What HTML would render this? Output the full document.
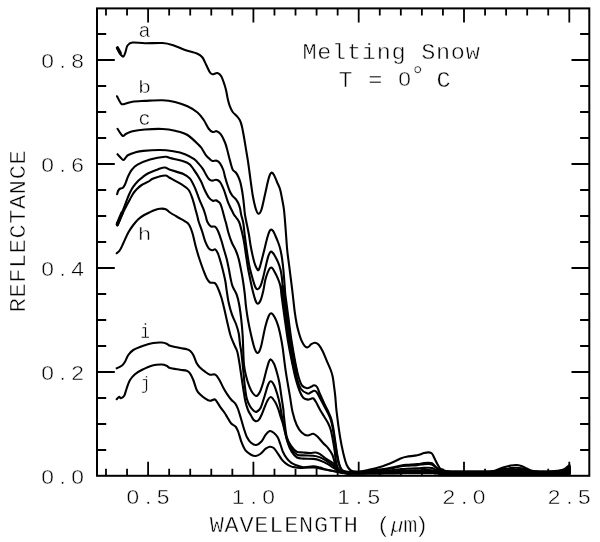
<!DOCTYPE html>
<html><head><meta charset="utf-8"><title>Melting Snow Reflectance</title>
<style>
html,body{margin:0;padding:0;background:#fff;}
body{width:600px;height:542px;overflow:hidden;}
svg{display:block;}
text{fill:#000;}
.m{font-family:"Liberation Mono",monospace;}
.s{font-family:"Liberation Sans",sans-serif;}
</style></head><body>
<svg width="600" height="542" viewBox="0 0 600 542">
<rect width="600" height="542" fill="#fff"/>
<rect x="97.0" y="8.4" width="492.29999999999995" height="467.40000000000003" fill="none" stroke="#000" stroke-width="2.0"/>
<path d="M105.98,475.8v-7M105.98,8.4v7M127.04,475.8v-7M127.04,8.4v7M148.10,475.8v-14M148.10,8.4v14M169.16,475.8v-7M169.16,8.4v7M190.22,475.8v-7M190.22,8.4v7M211.28,475.8v-7M211.28,8.4v7M232.34,475.8v-7M232.34,8.4v7M253.40,475.8v-14M253.40,8.4v14M274.46,475.8v-7M274.46,8.4v7M295.52,475.8v-7M295.52,8.4v7M316.58,475.8v-7M316.58,8.4v7M337.64,475.8v-7M337.64,8.4v7M358.70,475.8v-14M358.70,8.4v14M379.76,475.8v-7M379.76,8.4v7M400.82,475.8v-7M400.82,8.4v7M421.88,475.8v-7M421.88,8.4v7M442.94,475.8v-7M442.94,8.4v7M464.00,475.8v-14M464.00,8.4v14M485.06,475.8v-7M485.06,8.4v7M506.12,475.8v-7M506.12,8.4v7M527.18,475.8v-7M527.18,8.4v7M548.24,475.8v-7M548.24,8.4v7M569.30,475.8v-14M569.30,8.4v14M97.0,450.00h9.2M589.3,450.00h-9.2M97.0,424.00h9.2M589.3,424.00h-9.2M97.0,398.00h9.2M589.3,398.00h-9.2M97.0,372.00h17.8M589.3,372.00h-17.8M97.0,346.00h9.2M589.3,346.00h-9.2M97.0,320.00h9.2M589.3,320.00h-9.2M97.0,294.00h9.2M589.3,294.00h-9.2M97.0,268.00h17.8M589.3,268.00h-17.8M97.0,242.00h9.2M589.3,242.00h-9.2M97.0,216.00h9.2M589.3,216.00h-9.2M97.0,190.00h9.2M589.3,190.00h-9.2M97.0,164.00h17.8M589.3,164.00h-17.8M97.0,138.00h9.2M589.3,138.00h-9.2M97.0,112.00h9.2M589.3,112.00h-9.2M97.0,86.00h9.2M589.3,86.00h-9.2M97.0,60.00h17.8M589.3,60.00h-17.8M97.0,34.00h9.2M589.3,34.00h-9.2" fill="none" stroke="#000" stroke-width="1.8"/>
<path d="M117.00,48.00C117.33,48.67 118.33,50.83 119.00,52.00C119.67,53.17 120.25,54.25 121.00,55.00C121.75,55.75 122.75,57.00 123.50,56.50C124.25,56.00 124.83,53.83 125.50,52.00C126.17,50.17 126.33,47.08 127.50,45.50C128.67,43.92 129.58,42.88 132.50,42.50C135.42,42.12 140.00,43.17 145.00,43.25C150.00,43.33 157.92,42.71 162.50,43.00C167.08,43.29 168.75,43.83 172.50,45.00C176.25,46.17 180.83,48.54 185.00,50.00C189.17,51.46 194.58,52.50 197.50,53.75C200.42,55.00 201.04,55.62 202.50,57.50C203.96,59.38 205.00,62.50 206.25,65.00C207.50,67.50 208.96,70.96 210.00,72.50C211.04,74.04 211.25,74.17 212.50,74.25C213.75,74.33 216.04,72.67 217.50,73.00C218.96,73.33 220.07,74.25 221.25,76.25C222.43,78.25 223.78,82.54 224.60,85.00C225.42,87.46 225.63,88.50 226.20,91.00C226.77,93.50 227.37,97.38 228.00,100.00C228.63,102.62 229.22,104.70 230.00,106.70C230.78,108.70 231.58,110.45 232.70,112.00C233.82,113.55 235.48,114.58 236.70,116.00C237.92,117.42 239.12,118.72 240.00,120.50C240.88,122.28 241.33,123.90 242.00,126.70C242.67,129.50 243.33,133.53 244.00,137.30C244.67,141.07 245.33,145.30 246.00,149.30C246.67,153.30 247.40,157.35 248.00,161.30C248.60,165.25 249.07,169.05 249.60,173.00C250.13,176.95 250.63,181.00 251.20,185.00C251.77,189.00 252.20,192.92 253.00,197.00C253.80,201.08 255.07,206.70 256.00,209.50C256.93,212.30 257.68,213.80 258.60,213.80C259.52,213.80 260.43,212.72 261.50,209.50C262.57,206.28 263.92,199.25 265.00,194.50C266.08,189.75 267.17,184.33 268.00,181.00C268.83,177.67 269.38,175.90 270.00,174.50C270.62,173.10 271.03,172.52 271.70,172.60C272.37,172.68 273.12,173.43 274.00,175.00C274.88,176.57 276.00,179.67 277.00,182.00C278.00,184.33 279.17,186.25 280.00,189.00C280.83,191.75 281.33,195.00 282.00,198.50C282.67,202.00 283.38,204.75 284.00,210.00C284.62,215.25 285.17,223.33 285.70,230.00C286.23,236.67 286.60,243.88 287.20,250.00C287.80,256.12 288.60,261.15 289.30,266.70C290.00,272.25 290.82,278.58 291.40,283.30C291.98,288.02 292.25,290.27 292.80,295.00C293.35,299.73 294.04,306.83 294.70,311.70C295.36,316.57 296.07,320.73 296.75,324.20C297.43,327.67 298.09,329.98 298.80,332.50C299.51,335.02 300.25,337.38 301.00,339.30C301.75,341.22 302.55,342.77 303.30,344.00C304.05,345.23 304.83,346.13 305.50,346.70C306.17,347.27 306.67,347.47 307.30,347.40C307.93,347.33 308.63,346.83 309.30,346.30C309.97,345.77 310.35,344.78 311.30,344.20C312.25,343.62 313.77,342.72 315.00,342.80C316.23,342.88 317.42,343.28 318.70,344.70C319.98,346.12 321.37,348.63 322.70,351.30C324.03,353.97 325.37,357.58 326.70,360.70C328.03,363.82 329.70,367.33 330.70,370.00C331.70,372.67 332.15,374.03 332.70,376.70C333.25,379.37 333.57,382.67 334.00,386.00C334.43,389.33 334.87,392.42 335.30,396.70C335.73,400.98 335.82,405.03 336.60,411.70C337.38,418.37 338.88,429.77 340.00,436.70C341.12,443.63 342.18,448.58 343.30,453.30C344.42,458.02 345.47,462.15 346.70,465.00C347.93,467.85 349.37,469.30 350.70,470.40C352.03,471.50 353.15,471.40 354.70,471.60C356.25,471.80 357.78,471.86 360.00,471.60C362.22,471.34 364.67,470.82 368.00,470.06C371.33,469.31 375.78,468.43 380.00,467.09C384.22,465.74 389.75,463.49 393.30,462.00C396.85,460.51 399.07,459.04 401.30,458.16C403.53,457.28 404.03,457.20 406.70,456.72C409.37,456.24 414.42,455.89 417.30,455.28C420.18,454.67 422.10,453.55 424.00,453.07C425.90,452.59 427.37,452.30 428.70,452.40C430.03,452.50 431.00,452.58 432.00,453.65C433.00,454.72 433.82,457.12 434.70,458.83C435.58,460.54 436.42,462.32 437.30,463.92C438.18,465.52 439.10,467.47 440.00,468.43C440.90,469.39 441.70,469.23 442.70,469.68C443.70,470.13 444.45,470.80 446.00,471.12C447.55,471.44 450.33,471.52 452.00,471.60C453.67,471.68 454.00,471.60 456.00,471.60C458.00,471.60 461.33,471.60 464.00,471.60C466.67,471.60 469.33,471.60 472.00,471.60C474.67,471.60 477.33,471.60 480.00,471.60C482.67,471.60 485.55,471.75 488.00,471.60C490.45,471.45 492.03,471.41 494.70,470.68C497.37,469.94 501.33,468.02 504.00,467.18C506.67,466.33 508.70,465.96 510.70,465.59C512.70,465.23 514.23,464.94 516.00,465.00C517.77,465.06 519.52,465.34 521.30,465.92C523.08,466.51 524.92,467.71 526.70,468.50C528.48,469.29 529.78,470.16 532.00,470.68C534.22,471.19 538.00,471.45 540.00,471.60C542.00,471.75 542.67,471.60 544.00,471.60C545.33,471.60 546.50,471.63 548.00,471.60C549.50,471.57 551.45,471.54 553.00,471.42C554.55,471.30 555.68,471.15 557.30,470.88C558.92,470.61 561.25,470.28 562.70,469.80C564.15,469.32 565.00,468.70 566.00,468.00C567.00,467.30 568.10,466.00 568.70,465.60C569.30,465.20 569.43,464.60 569.60,465.60C569.77,466.60 569.68,470.60 569.70,471.60" fill="none" stroke="#000" stroke-width="2.1" stroke-linejoin="round" stroke-linecap="round"/>
<path d="M117.00,96.25C117.71,97.50 119.92,102.50 121.25,103.75C122.58,105.00 123.12,104.09 125.00,103.75C126.88,103.41 129.17,102.17 132.50,101.70C135.83,101.23 140.00,101.15 145.00,100.90C150.00,100.65 157.50,100.02 162.50,100.20C167.50,100.38 170.83,100.99 175.00,102.00C179.17,103.01 183.75,104.50 187.50,106.25C191.25,108.00 194.79,110.21 197.50,112.50C200.21,114.79 201.88,117.29 203.75,120.00C205.62,122.71 207.26,126.75 208.75,128.75C210.24,130.75 211.38,131.59 212.70,132.00C214.02,132.41 215.37,130.83 216.70,131.20C218.03,131.57 219.32,132.32 220.70,134.20C222.08,136.08 223.90,139.87 225.00,142.50C226.10,145.13 226.58,147.42 227.30,150.00C228.02,152.58 228.63,155.42 229.30,158.00C229.97,160.58 230.70,163.50 231.30,165.50C231.90,167.50 232.15,168.83 232.90,170.00C233.65,171.17 234.90,171.38 235.80,172.50C236.70,173.62 237.53,175.03 238.30,176.70C239.07,178.37 239.77,180.15 240.40,182.50C241.03,184.85 241.62,188.02 242.10,190.80C242.58,193.58 242.95,196.42 243.30,199.20C243.65,201.98 243.92,204.87 244.20,207.50C244.48,210.13 244.53,212.08 245.00,215.00C245.47,217.92 246.33,221.67 247.00,225.00C247.67,228.33 248.42,231.67 249.00,235.00C249.58,238.33 249.92,241.67 250.50,245.00C251.08,248.33 251.83,252.00 252.50,255.00C253.17,258.00 253.83,260.83 254.50,263.00C255.17,265.17 255.83,266.80 256.50,268.00C257.17,269.20 257.87,270.62 258.50,270.20C259.13,269.78 259.63,267.70 260.30,265.50C260.97,263.30 261.72,260.08 262.50,257.00C263.28,253.92 264.17,250.33 265.00,247.00C265.83,243.67 266.75,239.63 267.50,237.00C268.25,234.37 268.88,232.43 269.50,231.20C270.12,229.97 270.58,229.60 271.20,229.60C271.82,229.60 272.48,230.13 273.20,231.20C273.92,232.27 274.70,234.20 275.50,236.00C276.30,237.80 277.25,240.00 278.00,242.00C278.75,244.00 279.42,245.83 280.00,248.00C280.58,250.17 281.08,252.67 281.50,255.00C281.92,257.33 282.20,259.67 282.50,262.00C282.80,264.33 283.05,266.50 283.30,269.00C283.55,271.50 283.75,273.92 284.00,277.00C284.25,280.08 284.57,284.50 284.80,287.50C285.03,290.50 284.82,290.08 285.40,295.00C285.98,299.92 287.30,309.50 288.30,317.00C289.30,324.50 290.22,332.33 291.40,340.00C292.58,347.67 294.20,356.83 295.40,363.00C296.60,369.17 297.50,373.25 298.60,377.00C299.70,380.75 300.60,383.62 302.00,385.50C303.40,387.38 305.50,388.08 307.00,388.30C308.50,388.52 309.83,387.30 311.00,386.80C312.17,386.30 313.00,385.27 314.00,385.30C315.00,385.33 316.00,385.55 317.00,387.00C318.00,388.45 318.83,391.33 320.00,394.00C321.17,396.67 322.67,400.17 324.00,403.00C325.33,405.83 326.78,408.33 328.00,411.00C329.22,413.67 330.42,416.12 331.30,419.00C332.18,421.88 332.63,424.52 333.30,428.30C333.97,432.08 334.63,437.25 335.30,441.70C335.97,446.15 336.63,451.23 337.30,455.00C337.97,458.77 338.52,461.80 339.30,464.30C340.08,466.80 340.72,468.75 342.00,470.00C343.28,471.25 345.33,471.50 347.00,471.80C348.67,472.10 349.83,471.80 352.00,471.80C354.17,471.80 357.33,471.92 360.00,471.80C362.67,471.68 364.67,471.43 368.00,471.07C371.33,470.72 375.78,470.30 380.00,469.66C384.22,469.02 389.75,467.96 393.30,467.25C396.85,466.54 399.07,465.85 401.30,465.43C403.53,465.01 404.03,464.98 406.70,464.75C409.37,464.52 414.42,464.35 417.30,464.06C420.18,463.78 422.10,463.25 424.00,463.02C425.90,462.79 427.37,462.65 428.70,462.70C430.03,462.75 431.00,462.78 432.00,463.29C433.00,463.80 433.82,464.94 434.70,465.75C435.58,466.56 436.42,467.40 437.30,468.16C438.18,468.92 439.10,469.84 440.00,470.30C440.90,470.75 441.70,470.68 442.70,470.89C443.70,471.10 444.45,471.42 446.00,471.57C447.55,471.72 450.33,471.76 452.00,471.80C453.67,471.84 454.00,471.80 456.00,471.80C458.00,471.80 461.33,471.80 464.00,471.80C466.67,471.80 469.33,471.80 472.00,471.80C474.67,471.80 477.33,471.80 480.00,471.80C482.67,471.80 485.55,471.89 488.00,471.80C490.45,471.71 492.03,471.69 494.70,471.24C497.37,470.79 501.33,469.63 504.00,469.12C506.67,468.61 508.70,468.38 510.70,468.16C512.70,467.94 514.23,467.77 516.00,467.80C517.77,467.83 519.52,468.01 521.30,468.36C523.08,468.71 524.92,469.44 526.70,469.92C528.48,470.40 529.78,470.93 532.00,471.24C534.22,471.55 538.00,471.71 540.00,471.80C542.00,471.89 542.67,471.80 544.00,471.80C545.33,471.80 546.50,471.82 548.00,471.80C549.50,471.78 551.45,471.75 553.00,471.65C554.55,471.55 555.68,471.43 557.30,471.20C558.92,470.97 561.25,470.70 562.70,470.30C564.15,469.90 565.00,469.38 566.00,468.80C567.00,468.22 568.10,467.13 568.70,466.80C569.30,466.47 569.43,465.97 569.60,466.80C569.77,467.63 569.68,470.97 569.70,471.80" fill="none" stroke="#000" stroke-width="2.1" stroke-linejoin="round" stroke-linecap="round"/>
<path d="M117.50,128.75C118.33,129.92 121.04,134.92 122.50,135.75C123.96,136.58 124.58,134.50 126.25,133.75C127.92,133.00 129.38,131.96 132.50,131.25C135.62,130.54 140.00,129.88 145.00,129.50C150.00,129.12 157.50,128.79 162.50,129.00C167.50,129.21 170.83,129.75 175.00,130.75C179.17,131.75 183.33,132.42 187.50,135.00C191.67,137.58 197.47,143.75 200.00,146.25C202.53,148.75 201.70,148.49 202.70,150.00C203.70,151.51 204.78,153.75 206.00,155.30C207.22,156.85 208.88,158.35 210.00,159.30C211.12,160.25 211.58,160.77 212.70,161.00C213.82,161.23 215.48,160.32 216.70,160.70C217.92,161.08 218.90,161.75 220.00,163.30C221.10,164.85 222.47,167.77 223.30,170.00C224.13,172.23 224.30,174.20 225.00,176.70C225.70,179.20 226.67,182.50 227.50,185.00C228.33,187.50 229.17,189.90 230.00,191.70C230.83,193.50 231.53,194.55 232.50,195.80C233.47,197.05 234.83,197.95 235.80,199.20C236.77,200.45 237.60,201.78 238.30,203.30C239.00,204.82 239.51,206.35 240.00,208.30C240.49,210.25 240.70,212.55 241.25,215.00C241.80,217.45 242.73,219.67 243.30,223.00C243.88,226.33 244.13,230.55 244.70,235.00C245.27,239.45 245.93,244.58 246.70,249.70C247.47,254.82 248.30,260.82 249.30,265.70C250.30,270.58 251.70,275.45 252.70,279.00C253.70,282.55 254.47,285.28 255.30,287.00C256.13,288.72 256.83,289.47 257.70,289.30C258.57,289.13 259.62,287.88 260.50,286.00C261.38,284.12 262.00,281.83 263.00,278.00C264.00,274.17 265.58,266.72 266.50,263.00C267.42,259.28 267.92,257.45 268.50,255.70C269.08,253.95 269.57,253.18 270.00,252.50C270.43,251.82 270.68,251.60 271.10,251.60C271.52,251.60 271.93,251.90 272.50,252.50C273.07,253.10 273.62,253.67 274.50,255.20C275.38,256.73 276.82,259.37 277.80,261.70C278.78,264.03 279.73,266.65 280.40,269.20C281.07,271.75 281.40,273.95 281.80,277.00C282.20,280.05 282.53,284.50 282.80,287.50C283.07,290.50 282.82,290.08 283.40,295.00C283.98,299.92 285.27,309.50 286.30,317.00C287.33,324.50 288.35,332.33 289.60,340.00C290.85,347.67 292.53,356.50 293.80,363.00C295.07,369.50 296.00,374.67 297.20,379.00C298.40,383.33 299.28,386.57 301.00,389.00C302.72,391.43 305.83,393.05 307.50,393.60C309.17,394.15 309.92,392.77 311.00,392.30C312.08,391.83 313.00,390.77 314.00,390.80C315.00,390.83 315.92,391.13 317.00,392.50C318.08,393.87 319.30,396.75 320.50,399.00C321.70,401.25 322.95,403.62 324.20,406.00C325.45,408.38 326.87,410.88 328.00,413.30C329.13,415.72 330.17,417.80 331.00,420.50C331.83,423.20 332.33,425.83 333.00,429.50C333.67,433.17 334.33,438.17 335.00,442.50C335.67,446.83 336.33,451.83 337.00,455.50C337.67,459.17 338.17,462.00 339.00,464.50C339.83,467.00 340.67,469.25 342.00,470.50C343.33,471.75 345.33,471.75 347.00,472.00C348.67,472.25 349.83,472.00 352.00,472.00C354.17,472.00 357.33,472.11 360.00,472.00C362.67,471.89 364.67,471.67 368.00,471.35C371.33,471.03 375.78,470.66 380.00,470.10C384.22,469.53 389.75,468.58 393.30,467.95C396.85,467.32 399.07,466.70 401.30,466.33C403.53,465.96 404.03,465.93 406.70,465.72C409.37,465.52 414.42,465.37 417.30,465.12C420.18,464.86 422.10,464.39 424.00,464.18C425.90,463.98 427.37,463.86 428.70,463.90C430.03,463.94 431.00,463.97 432.00,464.43C433.00,464.88 433.82,465.89 434.70,466.61C435.58,467.34 436.42,468.08 437.30,468.76C438.18,469.44 439.10,470.26 440.00,470.66C440.90,471.07 441.70,471.00 442.70,471.19C443.70,471.38 444.45,471.66 446.00,471.80C447.55,471.93 450.33,471.97 452.00,472.00C453.67,472.03 454.00,472.00 456.00,472.00C458.00,472.00 461.33,472.00 464.00,472.00C466.67,472.00 469.33,472.00 472.00,472.00C474.67,472.00 477.33,472.00 480.00,472.00C482.67,472.00 485.55,472.06 488.00,472.00C490.45,471.94 492.03,471.93 494.70,471.65C497.37,471.37 501.33,470.65 504.00,470.32C506.67,470.00 508.70,469.86 510.70,469.73C512.70,469.59 514.23,469.48 516.00,469.50C517.77,469.52 519.52,469.63 521.30,469.85C523.08,470.07 524.92,470.52 526.70,470.82C528.48,471.12 529.78,471.45 532.00,471.65C534.22,471.85 538.00,471.94 540.00,472.00C542.00,472.06 542.67,472.00 544.00,472.00C545.33,472.00 546.50,472.02 548.00,472.00C549.50,471.98 551.45,471.96 553.00,471.87C554.55,471.77 555.68,471.66 557.30,471.46C558.92,471.26 561.25,471.01 562.70,470.65C564.15,470.29 565.00,469.82 566.00,469.30C567.00,468.78 568.10,467.80 568.70,467.50C569.30,467.20 569.43,466.75 569.60,467.50C569.77,468.25 569.68,471.25 569.70,472.00" fill="none" stroke="#000" stroke-width="2.1" stroke-linejoin="round" stroke-linecap="round"/>
<path d="M117.50,154.20C118.00,154.75 119.53,156.53 120.50,157.50C121.47,158.47 122.42,160.00 123.30,160.00C124.18,160.00 124.97,158.33 125.80,157.50C126.63,156.67 126.77,155.83 128.30,155.00C129.83,154.17 132.50,153.18 135.00,152.50C137.50,151.82 139.13,151.32 143.30,150.90C147.47,150.48 155.00,149.93 160.00,150.00C165.00,150.07 169.13,150.60 173.30,151.30C177.47,152.00 181.52,152.88 185.00,154.20C188.48,155.52 191.98,157.68 194.20,159.20C196.42,160.72 196.92,161.78 198.30,163.30C199.68,164.82 201.25,166.48 202.50,168.30C203.75,170.12 204.83,172.53 205.80,174.20C206.77,175.87 207.47,177.27 208.30,178.30C209.13,179.33 209.97,180.03 210.80,180.40C211.63,180.77 212.47,180.62 213.30,180.50C214.13,180.38 214.97,179.70 215.80,179.70C216.63,179.70 217.53,180.03 218.30,180.50C219.07,180.97 219.73,181.55 220.40,182.50C221.07,183.45 221.62,184.70 222.30,186.20C222.98,187.70 223.63,189.07 224.50,191.50C225.37,193.93 226.58,198.27 227.50,200.80C228.42,203.33 229.17,204.88 230.00,206.70C230.83,208.52 231.80,210.32 232.50,211.70C233.20,213.08 233.53,213.95 234.20,215.00C234.87,216.05 235.65,216.75 236.50,218.00C237.35,219.25 238.38,220.12 239.30,222.50C240.22,224.88 241.22,229.10 242.00,232.30C242.78,235.50 243.33,237.92 244.00,241.70C244.67,245.48 245.33,250.57 246.00,255.00C246.67,259.43 247.22,263.85 248.00,268.30C248.78,272.75 249.92,277.97 250.70,281.70C251.48,285.43 251.93,287.65 252.70,290.70C253.47,293.75 254.47,297.83 255.30,300.00C256.13,302.17 256.80,303.70 257.70,303.70C258.60,303.70 259.77,302.17 260.70,300.00C261.63,297.83 262.53,294.03 263.30,290.70C264.07,287.37 264.60,282.95 265.30,280.00C266.00,277.05 266.80,274.88 267.50,273.00C268.20,271.12 268.90,269.62 269.50,268.70C270.10,267.78 270.57,267.52 271.10,267.50C271.63,267.48 272.13,267.90 272.70,268.60C273.27,269.30 273.65,270.08 274.50,271.70C275.35,273.32 276.88,276.17 277.80,278.30C278.72,280.43 279.47,282.55 280.00,284.50C280.53,286.45 280.75,288.25 281.00,290.00C281.25,291.75 280.92,290.50 281.50,295.00C282.08,299.50 283.45,309.50 284.50,317.00C285.55,324.50 286.52,332.33 287.80,340.00C289.08,347.67 290.83,356.33 292.20,363.00C293.57,369.67 294.70,375.17 296.00,380.00C297.30,384.83 298.75,389.00 300.00,392.00C301.25,395.00 302.17,396.73 303.50,398.00C304.83,399.27 306.75,399.48 308.00,399.60C309.25,399.72 310.08,398.88 311.00,398.70C311.92,398.52 312.67,397.95 313.50,398.50C314.33,399.05 314.92,400.13 316.00,402.00C317.08,403.87 318.67,407.32 320.00,409.70C321.33,412.08 322.67,414.08 324.00,416.30C325.33,418.52 326.88,420.77 328.00,423.00C329.12,425.23 329.92,427.03 330.70,429.70C331.48,432.37 332.03,435.45 332.70,439.00C333.37,442.55 334.15,447.22 334.70,451.00C335.25,454.78 335.45,458.87 336.00,461.70C336.55,464.53 337.17,466.40 338.00,468.00C338.83,469.60 339.50,470.58 341.00,471.30C342.50,472.02 345.17,472.13 347.00,472.30C348.83,472.47 349.83,472.30 352.00,472.30C354.17,472.30 357.33,472.36 360.00,472.30C362.67,472.24 364.67,472.11 368.00,471.93C371.33,471.75 375.78,471.54 380.00,471.22C384.22,470.90 389.75,470.36 393.30,470.00C396.85,469.64 399.07,469.29 401.30,469.08C403.53,468.87 404.03,468.85 406.70,468.74C409.37,468.62 414.42,468.54 417.30,468.39C420.18,468.24 422.10,467.98 424.00,467.86C425.90,467.75 427.37,467.68 428.70,467.70C430.03,467.72 431.00,467.74 432.00,468.00C433.00,468.26 433.82,468.83 434.70,469.24C435.58,469.65 436.42,470.08 437.30,470.46C438.18,470.84 439.10,471.31 440.00,471.54C440.90,471.77 441.70,471.73 442.70,471.84C443.70,471.95 444.45,472.11 446.00,472.19C447.55,472.26 450.33,472.28 452.00,472.30C453.67,472.32 454.00,472.30 456.00,472.30C458.00,472.30 461.33,472.30 464.00,472.30C466.67,472.30 469.33,472.30 472.00,472.30C474.67,472.30 477.33,472.30 480.00,472.30C482.67,472.30 485.55,472.34 488.00,472.30C490.45,472.26 492.03,472.26 494.70,472.09C497.37,471.92 501.33,471.49 504.00,471.30C506.67,471.10 508.70,471.02 510.70,470.94C512.70,470.85 514.23,470.79 516.00,470.80C517.77,470.81 519.52,470.88 521.30,471.01C523.08,471.14 524.92,471.42 526.70,471.60C528.48,471.78 529.78,471.97 532.00,472.09C534.22,472.21 538.00,472.26 540.00,472.30C542.00,472.34 542.67,472.30 544.00,472.30C545.33,472.30 546.50,472.32 548.00,472.30C549.50,472.28 551.45,472.26 553.00,472.18C554.55,472.10 555.68,472.00 557.30,471.82C558.92,471.64 561.25,471.42 562.70,471.10C564.15,470.78 565.00,470.37 566.00,469.90C567.00,469.43 568.10,468.57 568.70,468.30C569.30,468.03 569.43,467.63 569.60,468.30C569.77,468.97 569.68,471.63 569.70,472.30" fill="none" stroke="#000" stroke-width="2.1" stroke-linejoin="round" stroke-linecap="round"/>
<path d="M117.10,194.20C117.30,193.60 117.75,191.55 118.30,190.60C118.85,189.65 119.63,188.98 120.40,188.50C121.17,188.02 122.13,188.37 122.90,187.70C123.67,187.03 124.37,185.78 125.00,184.50C125.63,183.22 126.12,181.50 126.70,180.00C127.28,178.50 127.67,177.17 128.50,175.50C129.33,173.83 130.20,171.80 131.70,170.00C133.20,168.20 134.45,166.45 137.50,164.70C140.55,162.95 145.42,160.82 150.00,159.50C154.58,158.18 161.67,157.00 165.00,156.75C168.33,156.50 166.28,157.01 170.00,158.00C173.72,158.99 183.30,160.70 187.30,162.70C191.30,164.70 191.77,167.00 194.00,170.00C196.23,173.00 198.92,177.37 200.70,180.70C202.48,184.03 203.37,187.23 204.70,190.00C206.03,192.77 207.37,195.52 208.70,197.30C210.03,199.08 211.48,200.18 212.70,200.70C213.92,201.22 215.08,200.25 216.00,200.40C216.92,200.55 217.53,201.12 218.20,201.60C218.87,202.08 219.42,202.32 220.00,203.30C220.58,204.28 221.15,205.83 221.70,207.50C222.25,209.17 222.78,211.38 223.30,213.30C223.82,215.22 224.35,217.38 224.80,219.00C225.25,220.62 225.35,220.55 226.00,223.00C226.65,225.45 227.70,230.37 228.70,233.70C229.70,237.03 230.78,240.12 232.00,243.00C233.22,245.88 234.88,248.33 236.00,251.00C237.12,253.67 237.92,256.12 238.70,259.00C239.48,261.88 240.03,264.97 240.70,268.30C241.37,271.63 242.03,274.83 242.70,279.00C243.37,283.17 244.15,288.68 244.70,293.30C245.25,297.92 245.45,302.25 246.00,306.70C246.55,311.15 247.22,315.57 248.00,320.00C248.78,324.43 249.73,328.97 250.70,333.30C251.67,337.63 252.95,343.00 253.80,346.00C254.65,349.00 255.18,350.13 255.80,351.30C256.42,352.47 256.93,352.95 257.50,353.00C258.07,353.05 258.57,352.85 259.20,351.60C259.83,350.35 260.28,349.65 261.30,345.50C262.32,341.35 264.07,331.62 265.30,326.70C266.53,321.78 267.70,318.23 268.70,316.00C269.70,313.77 270.30,313.08 271.30,313.30C272.30,313.52 273.58,315.30 274.70,317.30C275.82,319.30 277.12,322.63 278.00,325.30C278.88,327.97 279.25,329.73 280.00,333.30C280.75,336.87 281.53,340.30 282.50,346.70C283.47,353.10 284.55,363.37 285.80,371.70C287.05,380.03 288.88,390.03 290.00,396.70C291.12,403.37 291.38,406.98 292.50,411.70C293.62,416.42 295.17,421.53 296.70,425.00C298.23,428.47 299.90,430.75 301.70,432.50C303.50,434.25 305.57,435.30 307.50,435.50C309.43,435.70 311.50,433.37 313.30,433.70C315.10,434.03 316.63,435.90 318.30,437.50C319.97,439.10 321.63,441.50 323.30,443.30C324.97,445.10 326.77,446.35 328.30,448.30C329.83,450.25 331.38,452.50 332.50,455.00C333.62,457.50 334.03,460.80 335.00,463.30C335.97,465.80 336.30,468.45 338.30,470.00C340.30,471.55 344.72,472.17 347.00,472.60C349.28,473.03 349.83,472.60 352.00,472.60C354.17,472.60 357.33,472.63 360.00,472.60C362.67,472.57 364.67,472.49 368.00,472.39C371.33,472.29 375.78,472.17 380.00,471.99C384.22,471.81 389.75,471.50 393.30,471.30C396.85,471.10 399.07,470.90 401.30,470.78C403.53,470.66 404.03,470.65 406.70,470.59C409.37,470.52 414.42,470.47 417.30,470.39C420.18,470.31 422.10,470.16 424.00,470.09C425.90,470.03 427.37,469.99 428.70,470.00C430.03,470.01 431.00,470.02 432.00,470.17C433.00,470.31 433.82,470.64 434.70,470.87C435.58,471.10 436.42,471.34 437.30,471.56C438.18,471.78 439.10,472.04 440.00,472.17C440.90,472.30 441.70,472.28 442.70,472.34C443.70,472.40 444.45,472.49 446.00,472.54C447.55,472.58 450.33,472.59 452.00,472.60C453.67,472.61 454.00,472.60 456.00,472.60C458.00,472.60 461.33,472.60 464.00,472.60C466.67,472.60 469.33,472.60 472.00,472.60C474.67,472.60 477.33,472.60 480.00,472.60C482.67,472.60 485.55,472.62 488.00,472.60C490.45,472.58 492.03,472.57 494.70,472.46C497.37,472.35 501.33,472.06 504.00,471.93C506.67,471.80 508.70,471.75 510.70,471.69C512.70,471.63 514.23,471.59 516.00,471.60C517.77,471.61 519.52,471.65 521.30,471.74C523.08,471.83 524.92,472.01 526.70,472.13C528.48,472.25 529.78,472.38 532.00,472.46C534.22,472.54 538.00,472.58 540.00,472.60C542.00,472.62 542.67,472.60 544.00,472.60C545.33,472.60 546.50,472.62 548.00,472.60C549.50,472.59 551.45,472.57 553.00,472.51C554.55,472.45 555.68,472.38 557.30,472.24C558.92,472.11 561.25,471.94 562.70,471.70C564.15,471.46 565.00,471.15 566.00,470.80C567.00,470.45 568.10,469.80 568.70,469.60C569.30,469.40 569.43,469.10 569.60,469.60C569.77,470.10 569.68,472.10 569.70,472.60" fill="none" stroke="#000" stroke-width="2.1" stroke-linejoin="round" stroke-linecap="round"/>
<path d="M117.00,223.00C117.22,222.67 117.52,222.62 118.30,221.00C119.08,219.38 120.58,215.97 121.70,213.30C122.82,210.63 124.03,207.50 125.00,205.00C125.97,202.50 126.67,200.38 127.50,198.30C128.33,196.22 129.03,194.43 130.00,192.50C130.97,190.57 131.92,188.65 133.30,186.70C134.68,184.75 136.68,182.45 138.30,180.80C139.92,179.15 141.33,178.05 143.00,176.80C144.67,175.55 145.75,174.57 148.30,173.30C150.85,172.03 155.52,170.17 158.30,169.20C161.08,168.23 163.05,167.42 165.00,167.50C166.95,167.58 166.95,168.62 170.00,169.70C173.05,170.78 179.97,172.50 183.30,174.00C186.63,175.50 188.00,176.25 190.00,178.70C192.00,181.15 193.75,185.27 195.30,188.70C196.85,192.13 197.97,195.97 199.30,199.30C200.63,202.63 202.23,205.92 203.30,208.70C204.37,211.48 205.03,213.83 205.70,216.00C206.37,218.17 206.47,219.98 207.30,221.70C208.13,223.42 209.42,225.47 210.70,226.30C211.98,227.13 213.78,225.92 215.00,226.70C216.22,227.48 216.95,228.73 218.00,231.00C219.05,233.27 220.30,237.18 221.30,240.30C222.30,243.42 223.10,246.58 224.00,249.70C224.90,252.82 225.92,255.90 226.70,259.00C227.48,262.10 228.00,264.80 228.70,268.30C229.40,271.80 230.23,276.93 230.90,280.00C231.57,283.07 231.73,284.25 232.70,286.70C233.67,289.15 235.60,291.60 236.70,294.70C237.80,297.80 238.53,301.08 239.30,305.30C240.07,309.52 240.73,314.88 241.30,320.00C241.87,325.12 242.37,330.67 242.70,336.00C243.03,341.33 243.08,347.17 243.30,352.00C243.52,356.83 243.55,361.05 244.00,365.00C244.45,368.95 245.12,372.15 246.00,375.70C246.88,379.25 248.18,383.42 249.30,386.30C250.42,389.18 251.52,391.38 252.70,393.00C253.88,394.62 255.18,396.22 256.40,396.00C257.62,395.78 258.85,393.98 260.00,391.70C261.15,389.42 262.30,385.63 263.30,382.30C264.30,378.97 265.10,375.03 266.00,371.70C266.90,368.37 267.92,364.35 268.70,362.30C269.48,360.25 269.82,359.17 270.70,359.40C271.58,359.63 273.00,361.65 274.00,363.70C275.00,365.75 275.82,368.60 276.70,371.70C277.58,374.80 278.53,378.30 279.30,382.30C280.07,386.30 280.63,391.25 281.30,395.70C281.97,400.15 282.85,405.45 283.30,409.00C283.75,412.55 283.43,412.38 284.00,417.00C284.57,421.62 285.42,431.75 286.70,436.70C287.98,441.65 290.03,444.20 291.70,446.70C293.37,449.20 294.77,450.73 296.70,451.70C298.63,452.67 301.08,452.28 303.30,452.50C305.52,452.72 307.92,453.00 310.00,453.00C312.08,453.00 314.13,452.30 315.80,452.50C317.47,452.70 318.18,453.08 320.00,454.20C321.82,455.32 324.48,457.68 326.70,459.20C328.92,460.72 331.63,461.78 333.30,463.30C334.97,464.82 335.58,466.85 336.70,468.30C337.82,469.75 338.28,471.23 340.00,472.00C341.72,472.77 345.00,472.75 347.00,472.90C349.00,473.05 349.83,472.90 352.00,472.90C354.17,472.90 357.33,472.92 360.00,472.90C362.67,472.88 364.67,472.83 368.00,472.77C371.33,472.71 375.78,472.64 380.00,472.52C384.22,472.41 389.75,472.22 393.30,472.10C396.85,471.98 399.07,471.85 401.30,471.78C403.53,471.71 404.03,471.70 406.70,471.66C409.37,471.62 414.42,471.59 417.30,471.54C420.18,471.49 422.10,471.40 424.00,471.36C425.90,471.32 427.37,471.29 428.70,471.30C430.03,471.31 431.00,471.31 432.00,471.40C433.00,471.49 433.82,471.69 434.70,471.84C435.58,471.98 436.42,472.13 437.30,472.26C438.18,472.39 439.10,472.56 440.00,472.64C440.90,472.72 441.70,472.70 442.70,472.74C443.70,472.78 444.45,472.83 446.00,472.86C447.55,472.89 450.33,472.89 452.00,472.90C453.67,472.91 454.00,472.90 456.00,472.90C458.00,472.90 461.33,472.90 464.00,472.90C466.67,472.90 469.33,472.90 472.00,472.90C474.67,472.90 477.33,472.90 480.00,472.90C482.67,472.90 485.55,472.91 488.00,472.90C490.45,472.89 492.03,472.88 494.70,472.82C497.37,472.75 501.33,472.57 504.00,472.50C506.67,472.42 508.70,472.39 510.70,472.35C512.70,472.32 514.23,472.29 516.00,472.30C517.77,472.30 519.52,472.33 521.30,472.38C523.08,472.44 524.92,472.55 526.70,472.62C528.48,472.69 529.78,472.77 532.00,472.82C534.22,472.86 538.00,472.89 540.00,472.90C542.00,472.91 542.67,472.90 544.00,472.90C545.33,472.90 546.50,472.91 548.00,472.90C549.50,472.88 551.45,472.87 553.00,472.81C554.55,472.75 555.68,472.67 557.30,472.54C558.92,472.40 561.25,472.24 562.70,472.00C564.15,471.76 565.00,471.45 566.00,471.10C567.00,470.75 568.10,470.10 568.70,469.90C569.30,469.70 569.43,469.40 569.60,469.90C569.77,470.40 569.68,472.40 569.70,472.90" fill="none" stroke="#000" stroke-width="2.1" stroke-linejoin="round" stroke-linecap="round"/>
<path d="M117.30,225.50C117.75,224.50 119.00,221.75 120.00,219.50C121.00,217.25 122.18,214.37 123.30,212.00C124.42,209.63 125.58,207.43 126.70,205.30C127.82,203.17 128.90,201.20 130.00,199.20C131.10,197.20 132.18,194.97 133.30,193.30C134.42,191.63 135.30,190.58 136.70,189.20C138.10,187.82 139.77,186.25 141.70,185.00C143.63,183.75 146.37,182.77 148.30,181.70C150.23,180.63 150.52,179.63 153.30,178.60C156.08,177.57 162.22,175.60 165.00,175.50C167.78,175.40 167.17,176.47 170.00,178.00C172.83,179.53 178.88,182.70 182.00,184.70C185.12,186.70 186.92,187.57 188.70,190.00C190.48,192.43 191.60,196.18 192.70,199.30C193.80,202.42 194.53,205.92 195.30,208.70C196.07,211.48 196.73,213.83 197.30,216.00C197.87,218.17 197.92,219.20 198.70,221.70C199.48,224.20 200.90,227.67 202.00,231.00C203.10,234.33 204.18,238.82 205.30,241.70C206.42,244.58 207.58,246.87 208.70,248.30C209.82,249.73 210.90,250.12 212.00,250.30C213.10,250.48 214.30,248.83 215.30,249.40C216.30,249.97 217.00,251.22 218.00,253.70C219.00,256.18 220.30,260.75 221.30,264.30C222.30,267.85 223.30,272.05 224.00,275.00C224.70,277.95 225.05,279.38 225.50,282.00C225.95,284.62 226.17,287.25 226.70,290.70C227.23,294.15 227.82,298.70 228.70,302.70C229.58,306.70 230.78,311.15 232.00,314.70C233.22,318.25 234.88,320.90 236.00,324.00C237.12,327.10 238.03,329.97 238.70,333.30C239.37,336.63 239.57,340.88 240.00,344.00C240.43,347.12 240.85,348.50 241.30,352.00C241.75,355.50 242.30,361.17 242.70,365.00C243.10,368.83 243.37,371.67 243.70,375.00C244.03,378.33 244.20,381.12 244.70,385.00C245.20,388.88 245.82,394.75 246.70,398.30C247.58,401.85 248.78,404.18 250.00,406.30C251.22,408.42 252.88,410.10 254.00,411.00C255.12,411.90 255.58,412.25 256.70,411.70C257.82,411.15 259.37,410.37 260.70,407.70C262.03,405.03 263.48,399.48 264.70,395.70C265.92,391.92 267.00,387.40 268.00,385.00C269.00,382.60 269.70,381.30 270.70,381.30C271.70,381.30 272.90,382.83 274.00,385.00C275.10,387.17 276.30,390.97 277.30,394.30C278.30,397.63 279.22,401.22 280.00,405.00C280.78,408.78 280.83,411.28 282.00,417.00C283.17,422.72 285.42,433.97 287.00,439.30C288.58,444.63 289.83,446.45 291.50,449.00C293.17,451.55 295.03,453.53 297.00,454.60C298.97,455.67 300.58,455.22 303.30,455.40C306.02,455.58 310.52,455.37 313.30,455.70C316.08,456.03 317.50,456.35 320.00,457.40C322.50,458.45 325.97,460.52 328.30,462.00C330.63,463.48 332.38,464.88 334.00,466.30C335.62,467.72 335.83,469.37 338.00,470.50C340.17,471.63 344.67,472.67 347.00,473.10C349.33,473.53 349.83,473.10 352.00,473.10C354.17,473.10 357.33,473.12 360.00,473.10C362.67,473.08 364.67,473.05 368.00,473.00C371.33,472.96 375.78,472.90 380.00,472.82C384.22,472.73 389.75,472.59 393.30,472.50C396.85,472.41 399.07,472.32 401.30,472.26C403.53,472.21 404.03,472.20 406.70,472.17C409.37,472.14 414.42,472.12 417.30,472.08C420.18,472.04 422.10,471.97 424.00,471.94C425.90,471.91 427.37,471.89 428.70,471.90C430.03,471.91 431.00,471.91 432.00,471.98C433.00,472.05 433.82,472.20 434.70,472.30C435.58,472.41 436.42,472.52 437.30,472.62C438.18,472.72 439.10,472.84 440.00,472.90C440.90,472.96 441.70,472.95 442.70,472.98C443.70,473.01 444.45,473.05 446.00,473.07C447.55,473.09 450.33,473.10 452.00,473.10C453.67,473.11 454.00,473.10 456.00,473.10C458.00,473.10 461.33,473.10 464.00,473.10C466.67,473.10 469.33,473.10 472.00,473.10C474.67,473.10 477.33,473.10 480.00,473.10C482.67,473.10 485.55,473.11 488.00,473.10C490.45,473.09 492.03,473.09 494.70,473.04C497.37,473.00 501.33,472.88 504.00,472.83C506.67,472.78 508.70,472.76 510.70,472.74C512.70,472.71 514.23,472.70 516.00,472.70C517.77,472.70 519.52,472.72 521.30,472.76C523.08,472.79 524.92,472.86 526.70,472.91C528.48,472.96 529.78,473.01 532.00,473.04C534.22,473.08 538.00,473.09 540.00,473.10C542.00,473.11 542.67,473.10 544.00,473.10C545.33,473.10 546.50,473.11 548.00,473.10C549.50,473.09 551.45,473.08 553.00,473.03C554.55,472.98 555.68,472.91 557.30,472.80C558.92,472.69 561.25,472.55 562.70,472.35C564.15,472.15 565.00,471.89 566.00,471.60C567.00,471.31 568.10,470.77 568.70,470.60C569.30,470.43 569.43,470.18 569.60,470.60C569.77,471.02 569.68,472.68 569.70,473.10" fill="none" stroke="#000" stroke-width="2.1" stroke-linejoin="round" stroke-linecap="round"/>
<path d="M116.70,253.30C117.25,252.75 118.90,251.67 120.00,250.00C121.10,248.33 121.92,246.22 123.30,243.30C124.68,240.38 126.63,235.55 128.30,232.50C129.97,229.45 131.63,227.22 133.30,225.00C134.97,222.78 136.48,220.87 138.30,219.20C140.12,217.53 142.25,216.18 144.20,215.00C146.15,213.82 148.20,212.93 150.00,212.10C151.80,211.27 153.33,210.57 155.00,210.00C156.67,209.43 158.20,208.83 160.00,208.70C161.80,208.57 164.13,208.57 165.80,209.20C167.47,209.83 167.92,211.12 170.00,212.50C172.08,213.88 175.80,216.03 178.30,217.50C180.80,218.97 183.18,220.05 185.00,221.30C186.82,222.55 187.95,223.00 189.20,225.00C190.45,227.00 191.40,229.68 192.50,233.30C193.60,236.92 194.68,242.53 195.80,246.70C196.92,250.87 197.95,254.42 199.20,258.30C200.45,262.18 202.05,266.67 203.30,270.00C204.55,273.33 205.58,276.22 206.70,278.30C207.82,280.38 208.67,281.72 210.00,282.50C211.33,283.28 213.48,282.30 214.70,283.00C215.92,283.70 216.20,284.32 217.30,286.70C218.40,289.08 220.07,293.30 221.30,297.30C222.53,301.30 223.58,306.03 224.70,310.70C225.82,315.37 227.00,321.08 228.00,325.30C229.00,329.52 229.62,332.67 230.70,336.00C231.78,339.33 233.40,342.68 234.50,345.30C235.60,347.92 236.50,348.87 237.30,351.70C238.10,354.53 238.63,358.30 239.30,362.30C239.97,366.30 240.63,371.25 241.30,375.70C241.97,380.15 242.63,384.78 243.30,389.00C243.97,393.22 244.52,397.50 245.30,401.00C246.08,404.50 247.05,407.58 248.00,410.00C248.95,412.42 250.08,413.87 251.00,415.50C251.92,417.13 252.62,418.83 253.50,419.80C254.38,420.77 255.38,421.33 256.30,421.30C257.22,421.27 258.13,420.65 259.00,419.60C259.87,418.55 260.62,416.93 261.50,415.00C262.38,413.07 263.33,410.33 264.30,408.00C265.27,405.67 266.23,402.83 267.30,401.00C268.37,399.17 269.37,396.78 270.70,397.00C272.03,397.22 273.97,400.08 275.30,402.30C276.63,404.52 277.80,407.85 278.70,410.30C279.60,412.75 279.98,414.72 280.70,417.00C281.42,419.28 281.90,419.92 283.00,424.00C284.10,428.08 285.88,436.92 287.30,441.50C288.72,446.08 289.88,448.83 291.50,451.50C293.12,454.17 295.03,456.32 297.00,457.50C298.97,458.68 300.58,458.37 303.30,458.60C306.02,458.83 310.52,458.60 313.30,458.90C316.08,459.20 317.50,459.50 320.00,460.40C322.50,461.30 325.80,462.90 328.30,464.30C330.80,465.70 331.88,467.30 335.00,468.80C338.12,470.30 344.17,472.55 347.00,473.30C349.83,474.05 349.83,473.30 352.00,473.30C354.17,473.30 357.33,473.31 360.00,473.30C362.67,473.29 364.67,473.26 368.00,473.23C371.33,473.19 375.78,473.15 380.00,473.09C384.22,473.03 389.75,472.92 393.30,472.85C396.85,472.78 399.07,472.71 401.30,472.67C403.53,472.63 404.03,472.62 406.70,472.60C409.37,472.58 414.42,472.56 417.30,472.54C420.18,472.51 422.10,472.45 424.00,472.43C425.90,472.41 427.37,472.40 428.70,472.40C430.03,472.40 431.00,472.41 432.00,472.46C433.00,472.51 433.82,472.62 434.70,472.70C435.58,472.78 436.42,472.87 437.30,472.94C438.18,473.01 439.10,473.11 440.00,473.15C440.90,473.20 441.70,473.19 442.70,473.21C443.70,473.23 444.45,473.26 446.00,473.28C447.55,473.29 450.33,473.30 452.00,473.30C453.67,473.30 454.00,473.30 456.00,473.30C458.00,473.30 461.33,473.30 464.00,473.30C466.67,473.30 469.33,473.30 472.00,473.30C474.67,473.30 477.33,473.30 480.00,473.30C482.67,473.30 485.55,473.31 488.00,473.30C490.45,473.29 492.03,473.29 494.70,473.26C497.37,473.22 501.33,473.14 504.00,473.10C506.67,473.06 508.70,473.04 510.70,473.03C512.70,473.01 514.23,473.00 516.00,473.00C517.77,473.00 519.52,473.02 521.30,473.04C523.08,473.07 524.92,473.12 526.70,473.16C528.48,473.19 529.78,473.23 532.00,473.26C534.22,473.28 538.00,473.29 540.00,473.30C542.00,473.31 542.67,473.30 544.00,473.30C545.33,473.30 546.50,473.31 548.00,473.30C549.50,473.29 551.45,473.28 553.00,473.24C554.55,473.20 555.68,473.15 557.30,473.06C558.92,472.97 561.25,472.86 562.70,472.70C564.15,472.54 565.00,472.33 566.00,472.10C567.00,471.87 568.10,471.43 568.70,471.30C569.30,471.17 569.43,470.97 569.60,471.30C569.77,471.63 569.68,472.97 569.70,473.30" fill="none" stroke="#000" stroke-width="2.1" stroke-linejoin="round" stroke-linecap="round"/>
<path d="M116.70,368.30C117.53,367.88 120.32,366.90 121.70,365.80C123.08,364.70 123.90,363.50 125.00,361.70C126.10,359.90 126.92,356.95 128.30,355.00C129.68,353.05 130.80,351.53 133.30,350.00C135.80,348.47 139.97,346.97 143.30,345.80C146.63,344.63 150.23,343.55 153.30,343.00C156.37,342.45 159.47,342.38 161.70,342.50C163.93,342.62 165.32,343.15 166.70,343.70C168.08,344.25 167.78,345.08 170.00,345.80C172.22,346.52 177.22,347.43 180.00,348.00C182.78,348.57 185.03,348.73 186.70,349.20C188.37,349.67 188.90,349.83 190.00,350.80C191.10,351.77 192.18,352.92 193.30,355.00C194.42,357.08 195.58,361.22 196.70,363.30C197.82,365.38 198.62,366.10 200.00,367.50C201.38,368.90 203.33,370.50 205.00,371.70C206.67,372.90 208.28,374.22 210.00,374.70C211.72,375.18 213.75,373.77 215.30,374.60C216.85,375.43 217.97,377.52 219.30,379.70C220.63,381.88 221.97,385.27 223.30,387.70C224.63,390.13 225.97,392.30 227.30,394.30C228.63,396.30 229.97,398.13 231.30,399.70C232.63,401.27 234.18,402.15 235.30,403.70C236.42,405.25 237.05,406.50 238.00,409.00C238.95,411.50 240.05,415.53 241.00,418.70C241.95,421.87 242.70,424.90 243.70,428.00C244.70,431.10 245.78,434.85 247.00,437.30C248.22,439.75 249.45,441.42 251.00,442.70C252.55,443.98 254.52,445.23 256.30,445.00C258.08,444.77 260.13,443.02 261.70,441.30C263.27,439.58 264.37,436.42 265.70,434.70C267.03,432.98 268.37,431.33 269.70,431.00C271.03,430.67 272.37,431.65 273.70,432.70C275.03,433.75 276.60,435.42 277.70,437.30C278.80,439.18 279.42,441.55 280.30,444.00C281.18,446.45 281.88,449.55 283.00,452.00C284.12,454.45 285.67,456.92 287.00,458.70C288.33,460.48 289.67,461.70 291.00,462.70C292.33,463.70 292.95,463.95 295.00,464.70C297.05,465.45 300.25,466.93 303.30,467.20C306.35,467.47 310.52,466.25 313.30,466.30C316.08,466.35 317.50,466.88 320.00,467.50C322.50,468.12 323.80,469.00 328.30,470.00C332.80,471.00 343.05,472.92 347.00,473.50C350.95,474.08 349.83,473.50 352.00,473.50C354.17,473.50 357.33,473.51 360.00,473.50C362.67,473.49 364.67,473.48 368.00,473.45C371.33,473.43 375.78,473.40 380.00,473.36C384.22,473.32 389.75,473.25 393.30,473.20C396.85,473.15 399.07,473.11 401.30,473.08C403.53,473.05 404.03,473.05 406.70,473.04C409.37,473.02 414.42,473.01 417.30,472.99C420.18,472.97 422.10,472.94 424.00,472.92C425.90,472.91 427.37,472.90 428.70,472.90C430.03,472.90 431.00,472.91 432.00,472.94C433.00,472.97 433.82,473.05 434.70,473.10C435.58,473.15 436.42,473.21 437.30,473.26C438.18,473.31 439.10,473.37 440.00,473.40C440.90,473.43 441.70,473.43 442.70,473.44C443.70,473.45 444.45,473.48 446.00,473.49C447.55,473.50 450.33,473.50 452.00,473.50C453.67,473.50 454.00,473.50 456.00,473.50C458.00,473.50 461.33,473.50 464.00,473.50C466.67,473.50 469.33,473.50 472.00,473.50C474.67,473.50 477.33,473.50 480.00,473.50C482.67,473.50 485.55,473.50 488.00,473.50C490.45,473.50 492.03,473.49 494.70,473.47C497.37,473.45 501.33,473.39 504.00,473.37C506.67,473.34 508.70,473.33 510.70,473.32C512.70,473.31 514.23,473.30 516.00,473.30C517.77,473.30 519.52,473.31 521.30,473.33C523.08,473.35 524.92,473.38 526.70,473.41C528.48,473.43 529.78,473.46 532.00,473.47C534.22,473.49 538.00,473.50 540.00,473.50C542.00,473.50 542.67,473.50 544.00,473.50C545.33,473.50 546.50,473.51 548.00,473.50C549.50,473.49 551.45,473.49 553.00,473.45C554.55,473.42 555.68,473.39 557.30,473.32C558.92,473.25 561.25,473.17 562.70,473.05C564.15,472.93 565.00,472.78 566.00,472.60C567.00,472.43 568.10,472.10 568.70,472.00C569.30,471.90 569.43,471.75 569.60,472.00C569.77,472.25 569.68,473.25 569.70,473.50" fill="none" stroke="#000" stroke-width="2.1" stroke-linejoin="round" stroke-linecap="round"/>
<path d="M116.70,399.20C117.12,398.78 118.52,396.85 119.20,396.70C119.88,396.55 119.97,398.45 120.80,398.30C121.63,398.15 123.22,397.47 124.20,395.80C125.18,394.13 125.73,390.93 126.70,388.30C127.67,385.67 128.62,382.35 130.00,380.00C131.38,377.65 133.05,375.87 135.00,374.20C136.95,372.53 138.65,371.48 141.70,370.00C144.75,368.52 149.97,366.22 153.30,365.30C156.63,364.38 159.47,364.42 161.70,364.50C163.93,364.58 165.32,365.22 166.70,365.80C168.08,366.38 167.78,367.35 170.00,368.00C172.22,368.65 177.22,369.23 180.00,369.70C182.78,370.17 185.03,370.20 186.70,370.80C188.37,371.40 188.90,371.77 190.00,373.30C191.10,374.83 192.18,377.22 193.30,380.00C194.42,382.78 195.58,387.63 196.70,390.00C197.82,392.37 198.62,392.82 200.00,394.20C201.38,395.58 203.33,397.20 205.00,398.30C206.67,399.40 208.38,400.62 210.00,400.80C211.62,400.98 213.48,399.15 214.70,399.40C215.92,399.65 216.30,400.92 217.30,402.30C218.30,403.68 219.47,405.92 220.70,407.70C221.93,409.48 223.60,411.40 224.70,413.00C225.80,414.60 226.25,415.58 227.30,417.30C228.35,419.02 229.60,421.73 231.00,423.30C232.40,424.87 234.48,425.25 235.70,426.70C236.92,428.15 237.30,429.33 238.30,432.00C239.30,434.67 240.47,439.58 241.70,442.70C242.93,445.82 244.15,448.70 245.70,450.70C247.25,452.70 249.33,453.82 251.00,454.70C252.67,455.58 254.15,456.12 255.70,456.00C257.25,455.88 258.63,455.22 260.30,454.00C261.97,452.78 264.13,449.92 265.70,448.70C267.27,447.48 268.37,446.82 269.70,446.70C271.03,446.58 272.37,446.90 273.70,448.00C275.03,449.10 276.37,451.42 277.70,453.30C279.03,455.18 280.37,457.63 281.70,459.30C283.03,460.97 284.15,462.12 285.70,463.30C287.25,464.48 289.45,465.73 291.00,466.40C292.55,467.07 293.50,467.03 295.00,467.30C296.50,467.57 296.95,467.97 300.00,468.00C303.05,468.03 309.42,467.30 313.30,467.50C317.18,467.70 317.68,468.18 323.30,469.20C328.92,470.22 342.22,472.87 347.00,473.60C351.78,474.33 349.83,473.60 352.00,473.60C354.17,473.60 357.33,473.61 360.00,473.60C362.67,473.59 364.67,473.58 368.00,473.57C371.33,473.55 375.78,473.53 380.00,473.51C384.22,473.48 389.75,473.43 393.30,473.40C396.85,473.37 399.07,473.34 401.30,473.32C403.53,473.30 404.03,473.30 406.70,473.29C409.37,473.28 414.42,473.27 417.30,473.26C420.18,473.25 422.10,473.22 424.00,473.21C425.90,473.20 427.37,473.20 428.70,473.20C430.03,473.20 431.00,473.20 432.00,473.23C433.00,473.25 433.82,473.30 434.70,473.33C435.58,473.37 436.42,473.41 437.30,473.44C438.18,473.47 439.10,473.51 440.00,473.53C440.90,473.55 441.70,473.55 442.70,473.56C443.70,473.57 444.45,473.58 446.00,473.59C447.55,473.60 450.33,473.60 452.00,473.60C453.67,473.60 454.00,473.60 456.00,473.60C458.00,473.60 461.33,473.60 464.00,473.60C466.67,473.60 469.33,473.60 472.00,473.60C474.67,473.60 477.33,473.60 480.00,473.60C482.67,473.60 485.55,473.60 488.00,473.60C490.45,473.60 492.03,473.60 494.70,473.59C497.37,473.57 501.33,473.55 504.00,473.53C506.67,473.52 508.70,473.51 510.70,473.51C512.70,473.50 514.23,473.50 516.00,473.50C517.77,473.50 519.52,473.51 521.30,473.51C523.08,473.52 524.92,473.54 526.70,473.55C528.48,473.56 529.78,473.58 532.00,473.59C534.22,473.59 538.00,473.60 540.00,473.60C542.00,473.60 542.67,473.60 544.00,473.60C545.33,473.60 546.50,473.61 548.00,473.60C549.50,473.60 551.45,473.59 553.00,473.57C554.55,473.55 555.68,473.53 557.30,473.48C558.92,473.44 561.25,473.38 562.70,473.30C564.15,473.22 565.00,473.12 566.00,473.00C567.00,472.88 568.10,472.67 568.70,472.60C569.30,472.53 569.43,472.43 569.60,472.60C569.77,472.77 569.68,473.43 569.70,473.60" fill="none" stroke="#000" stroke-width="2.1" stroke-linejoin="round" stroke-linecap="round"/>
<path d="M282.6,287L283.4,295L286.3,317L289.6,340L293.8,363L296,373" fill="none" stroke="#000" stroke-width="4.2" stroke-linecap="round" stroke-linejoin="round"/>
<rect x="438" y="470.7" width="132.4" height="5.5" fill="#000"/>
<path d="M117.4,47.8L120.3,53" fill="none" stroke="#000" stroke-width="3.2" stroke-linecap="round"/>
<path d="M117.3,224.5L119.5,219L122,213" fill="none" stroke="#000" stroke-width="3.4" stroke-linecap="round" stroke-linejoin="round"/>
<text transform="translate(0,484.2) scale(1.14,1)" x="41.75 55.00 68.07" y="0" class="s" font-size="20.0" text-anchor="middle" stroke="#fff" stroke-width="0.45" >0.0</text>
<text transform="translate(0,380.2) scale(1.14,1)" x="41.75 55.00 68.07" y="0" class="s" font-size="20.0" text-anchor="middle" stroke="#fff" stroke-width="0.45" >0.2</text>
<text transform="translate(0,276.2) scale(1.14,1)" x="41.75 55.00 68.07" y="0" class="s" font-size="20.0" text-anchor="middle" stroke="#fff" stroke-width="0.45" >0.4</text>
<text transform="translate(0,172.2) scale(1.14,1)" x="41.75 55.00 68.07" y="0" class="s" font-size="20.0" text-anchor="middle" stroke="#fff" stroke-width="0.45" >0.6</text>
<text transform="translate(0,68.2) scale(1.14,1)" x="41.75 55.00 68.07" y="0" class="s" font-size="20.0" text-anchor="middle" stroke="#fff" stroke-width="0.45" >0.8</text>
<text transform="translate(0,504.4) scale(1.14,1)" x="116.58 130.09 143.16" y="0" class="s" font-size="20.0" text-anchor="middle" stroke="#fff" stroke-width="0.45" >0.5</text>
<text transform="translate(0,504.4) scale(1.14,1)" x="208.95 222.46 235.53" y="0" class="s" font-size="20.0" text-anchor="middle" stroke="#fff" stroke-width="0.45" >1.0</text>
<text transform="translate(0,504.4) scale(1.14,1)" x="301.32 314.82 327.89" y="0" class="s" font-size="20.0" text-anchor="middle" stroke="#fff" stroke-width="0.45" >1.5</text>
<text transform="translate(0,504.4) scale(1.14,1)" x="393.68 407.19 420.26" y="0" class="s" font-size="20.0" text-anchor="middle" stroke="#fff" stroke-width="0.45" >2.0</text>
<text transform="translate(0,504.4) scale(1.14,1)" x="486.05 499.56 512.63" y="0" class="s" font-size="20.0" text-anchor="middle" stroke="#fff" stroke-width="0.45" >2.5</text>
<text transform="translate(0,58.6) scale(1.1,1)" x="281.36 294.85 308.35 321.84 335.33 348.82 362.31" y="0" class="m" font-size="21.4" text-anchor="middle" stroke="#fff" stroke-width="0.45" >Melting</text>
<text transform="translate(0,58.6) scale(1.1,1)" x="389.29 402.78 416.27 429.76" y="0" class="m" font-size="21.4" text-anchor="middle" stroke="#fff" stroke-width="0.45" >Snow</text>
<text transform="translate(0,86.9) scale(1.1,1)" x="314.18" y="0" class="m" font-size="21.4" text-anchor="middle" stroke="#fff" stroke-width="0.45" >T</text>
<text transform="translate(0,86.9) scale(1.1,1)" x="341.18" y="0" class="m" font-size="21.4" text-anchor="middle" stroke="#fff" stroke-width="0.45" >=</text>
<text transform="translate(0,86.4) scale(1.14,1)" x="354.91" y="0" class="s" font-size="20.0" text-anchor="middle" stroke="#fff" stroke-width="0.45" >0</text>
<text transform="translate(0,84.4) scale(1.0,1)" x="417.70" y="0" class="s" font-size="25" text-anchor="middle" stroke="#fff" stroke-width="0.45" >°</text>
<text transform="translate(0,86.9) scale(1.1,1)" x="403.18" y="0" class="m" font-size="21.4" text-anchor="middle" stroke="#fff" stroke-width="0.45" >C</text>
<text transform="translate(0,532.3) scale(1.1,1)" x="197.00 210.55 224.09 237.64 251.18 264.73 278.27 291.82 305.36 318.91" y="0" class="m" font-size="21.4" text-anchor="middle" stroke="#fff" stroke-width="0.45" >WAVELENGTH</text>
<text transform="translate(0,532.3) scale(1.1,1)" x="348.64" y="0" class="m" font-size="21.4" text-anchor="middle" stroke="#fff" stroke-width="0.45" >(</text>
<text transform="translate(0,531.8) scale(1.1,1)" x="360.91" y="0" class="s" font-size="20" text-anchor="middle" stroke="#fff" stroke-width="0.45" font-style="italic">μ</text>
<text transform="translate(0,532.3) scale(1.1,1)" x="373.00" y="0" class="m" font-size="21.4" text-anchor="middle" stroke="#fff" stroke-width="0.45" >m</text>
<text transform="translate(0,532.3) scale(1.1,1)" x="383.18" y="0" class="m" font-size="21.4" text-anchor="middle" stroke="#fff" stroke-width="0.45" >)</text>
<text transform="translate(25.1,305.3) rotate(-90) scale(1.1,1)" x="0.00 13.44 26.87 40.31 53.75 67.18 80.62 94.05 107.49 120.93 134.36" y="0" class="m" font-size="21.4" text-anchor="middle" stroke="#fff" stroke-width="0.45">REFLECTANCE</text>
<text transform="translate(0,37.1) scale(1.0,1)" x="144.50" y="0" class="m" font-size="20.2" text-anchor="middle" stroke="#fff" stroke-width="0.45" >a</text>
<text transform="translate(0,93.3) scale(1.15,1)" x="125.65" y="0" class="m" font-size="19" text-anchor="middle" stroke="#fff" stroke-width="0.45" >b</text>
<text transform="translate(0,125.1) scale(1.0,1)" x="144.50" y="0" class="m" font-size="20.2" text-anchor="middle" stroke="#fff" stroke-width="0.45" >c</text>
<text transform="translate(0,239.8) scale(1.2,1)" x="120.42" y="0" class="m" font-size="19" text-anchor="middle" stroke="#fff" stroke-width="0.45" >h</text>
<text transform="translate(0,337.7) scale(0.8,1)" x="181.62" y="0" class="m" font-size="19.5" text-anchor="middle" stroke="#fff" stroke-width="0.45" >i</text>
<text transform="translate(0,389.2) scale(0.8,1)" x="181.88" y="0" class="m" font-size="19" text-anchor="middle" stroke="#fff" stroke-width="0.45" >j</text>
</svg>
</body></html>
